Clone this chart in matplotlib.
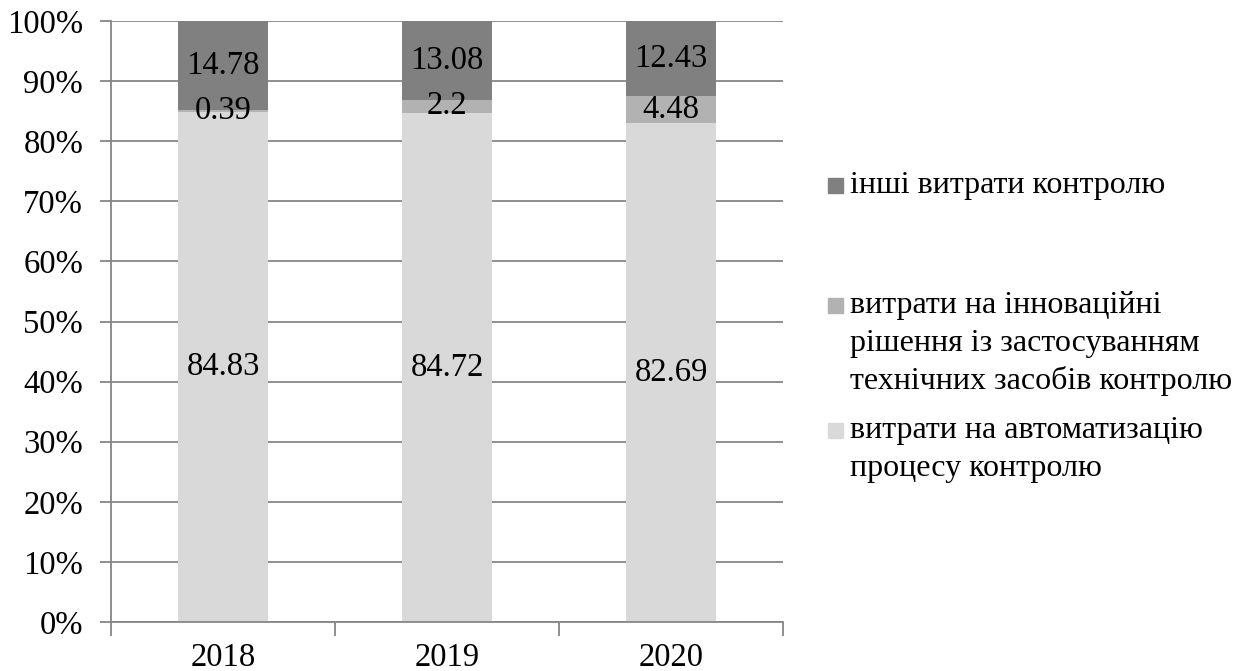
import numpy as np
import matplotlib
matplotlib.use("Agg")
import matplotlib.pyplot as plt
from matplotlib.patches import Rectangle

plt.rcParams["font.family"] = ["Liberation Serif", "DejaVu Serif"]

years = ["2018", "2019", "2020"]
automation = [84.83, 84.72, 82.69]
innovation = [0.39, 2.2, 4.48]
other = [14.78, 13.08, 12.43]

series_names = [
    "витрати на автоматизацію\nпроцесу контролю",
    "витрати на інноваційні\nрішення із застосуванням\nтехнічних засобів контролю",
    "інші витрати контролю",
]
series_values = [automation, innovation, other]
series_colors = ["#d9d9d9", "#b2b2b2", "#808080"]

W, H, DPI = 1250, 671, 100
fig = plt.figure(figsize=(W / DPI, H / DPI), dpi=DPI)
ax = fig.add_axes([111 / W, 1 - 622 / H, (783 - 111) / W, (622 - 21) / H])

data = np.array(series_values, dtype=float)
totals = data.sum(axis=0)
shares = data / totals * 100
x = np.arange(len(years))
bottom = np.zeros(len(years))
fs = 23.5
legend_fs = 23
for vals, raw, col in zip(shares, data, series_colors):
    ax.bar(x, vals, width=0.4, bottom=bottom, color=col, zorder=2)
    for xi, b, v, r in zip(x, bottom, vals, raw):
        ax.text(xi, b + v / 2, f"{r:g}", ha="center", va="center",
                fontsize=fs, color="black", zorder=3)
    bottom += vals

ax.set_xlim(-0.5, len(years) - 0.5)
ax.set_ylim(0, 100)
ax.set_yticks(np.arange(0, 101, 10))
ax.set_yticklabels([f"{v}%" for v in range(0, 101, 10)])
ax.yaxis.grid(True, color="#868686", linewidth=1.3, zorder=0)
ax.set_axisbelow(True)

ax.set_xticks(x)
ax.set_xticklabels(years)
ax.set_xticks(np.arange(-0.5, len(years), 1.0), minor=True)
ax.tick_params(axis="x", which="major", length=0, pad=15, labelsize=fs)
ax.tick_params(axis="x", which="minor", length=10, width=1.3, color="#868686", direction="out")
ax.tick_params(axis="y", length=8, width=1.3, color="#868686", pad=12, labelsize=fs)

for side in ("top", "right"):
    ax.spines[side].set_visible(False)
for side in ("left", "bottom"):
    ax.spines[side].set_color("#868686")
    ax.spines[side].set_linewidth(1.3)

# legend, top to bottom: other, innovation, automation
legend_items = [
    (series_names[2], series_colors[2], 185, [193]),
    (series_names[1], series_colors[1], 305, [313, 351, 389]),
    (series_names[0], series_colors[0], 430, [438, 476]),
]
for label, col, sq_y, baselines in legend_items:
    fig.patches.append(Rectangle((828 / W, 1 - (sq_y + 7.5) / H), 15 / W, 15 / H,
                                 transform=fig.transFigure, color=col, figure=fig))
    for line, by in zip(label.split("\n"), baselines):
        fig.text(850 / W, 1 - by / H, line, ha="left", va="baseline", fontsize=legend_fs)

fig.savefig("out.png", dpi=DPI)
